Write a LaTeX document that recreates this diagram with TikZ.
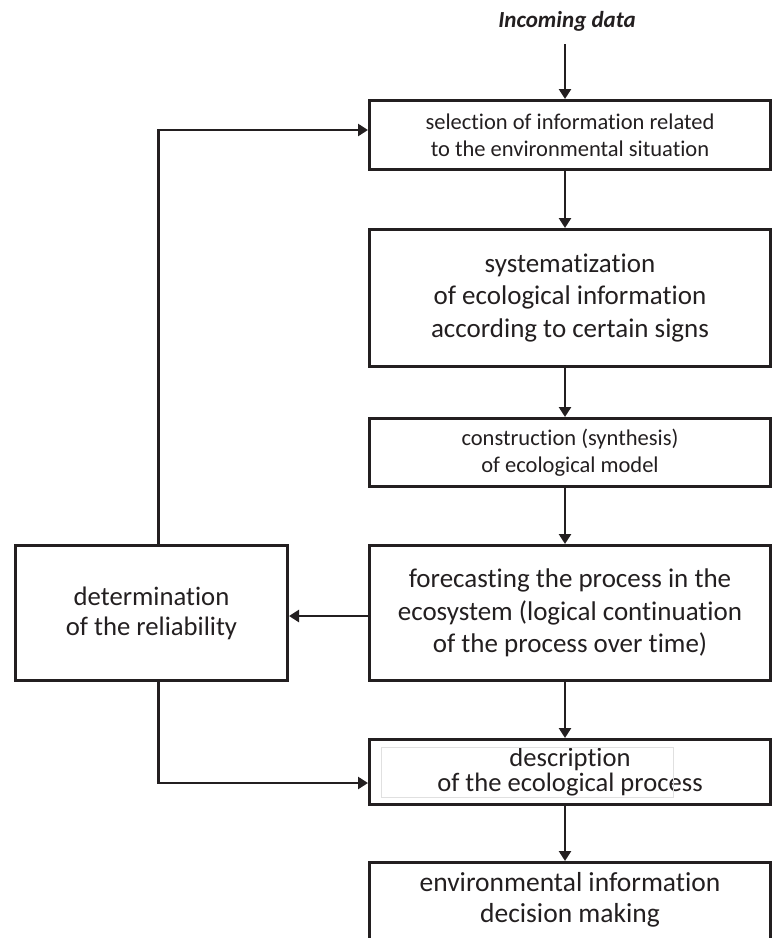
\documentclass[tikz,border=0pt]{standalone}
\usepackage{fontspec}
\setmainfont{Carlito}[Ligatures=NoCommon]
\usetikzlibrary{arrows.meta,positioning}
\definecolor{ink}{HTML}{231F20}

\begin{document}
\begin{tikzpicture}[x=1pt,y=-1pt,>={Triangle[length=10pt,width=12pt]}]

  \tikzstyle{block}=[rectangle,draw=ink,text=ink,line width=3pt,
                     minimum width=401pt,align=center,inner sep=0pt]
  \tikzstyle{small text}=[font=\fontsize{22.5}{27}\selectfont]
  \tikzstyle{big text}=[font=\fontsize{27}{32.5}\selectfont]
  \tikzstyle{flow}=[->,draw=ink,line width=2.8pt]

  \clip (0,0) rectangle (773,938);

  % main column
  \node [text=ink,font=\bfseries\itshape\fontsize{23}{26}\selectfont,inner ysep=13pt]
                     (in)                       at (567,21) {Incoming data};
  \node [block,small text,minimum height=69pt]
                     (sel)  at (570,135)   {selection of information related\\to the environmental situation};
  \node [block,big text,minimum height=137pt]
                     (sys)  [below=57pt of sel]  {systematization\\of ecological information\\according to certain signs};
  \node [block,small text,minimum height=68pt]
                     (cons) [below=49pt of sys]  {construction (synthesis)\\of ecological model};
  \node [block,big text,minimum height=135pt]
                     (fore) [below=56pt of cons] {forecasting the process in the\\ecosystem (logical continuation\\of the process over time)};
  \node [block,font=\fontsize{26.6}{25}\selectfont,minimum height=65pt]
                     (desc) [below=56pt of fore] {description\\of the ecological process};
  \node [block,font=\fontsize{27.5}{31}\selectfont,minimum height=80pt,anchor=north,text depth=10pt]
                     (dec)  [below=55pt of desc] {environmental information\\decision making};

  % side box
  \node [block,font=\fontsize{26.7}{30}\selectfont,minimum width=272pt,minimum height=135pt]
                     (rel)  [left=79pt of fore]  {determination\\of the reliability};

  % faint frame left inside the description box
  \draw [black!12,line width=0.6pt]
    ([xshift=-189pt,yshift=25pt]desc.center) rectangle ([xshift=103pt,yshift=-25pt]desc.center);

  \draw [flow] ([xshift=-2pt]in.south)   -- ([xshift=-5pt]sel.north);
  \draw [flow] ([xshift=-5pt]sel.south)  -- ([xshift=-5pt]sys.north);
  \draw [flow] ([xshift=-5pt]sys.south)  -- ([xshift=-5pt]cons.north);
  \draw [flow] ([xshift=-5pt]cons.south) -- ([xshift=-5pt]fore.north);
  \draw [flow] ([xshift=-5pt]fore.south) -- ([xshift=-5pt]desc.north);
  \draw [flow] ([xshift=-5pt]desc.south) -- ([xshift=-5pt]dec.north);

  \draw [flow] ([yshift=-3pt]fore.west) -- ([yshift=-3pt]rel.east);
  \draw [flow] ([xshift=7pt]rel.north) |- ([yshift=5pt]sel.west);
  \draw [flow] ([xshift=7pt]rel.south) |- ([yshift=-11pt]desc.west);
\end{tikzpicture}
\end{document}
